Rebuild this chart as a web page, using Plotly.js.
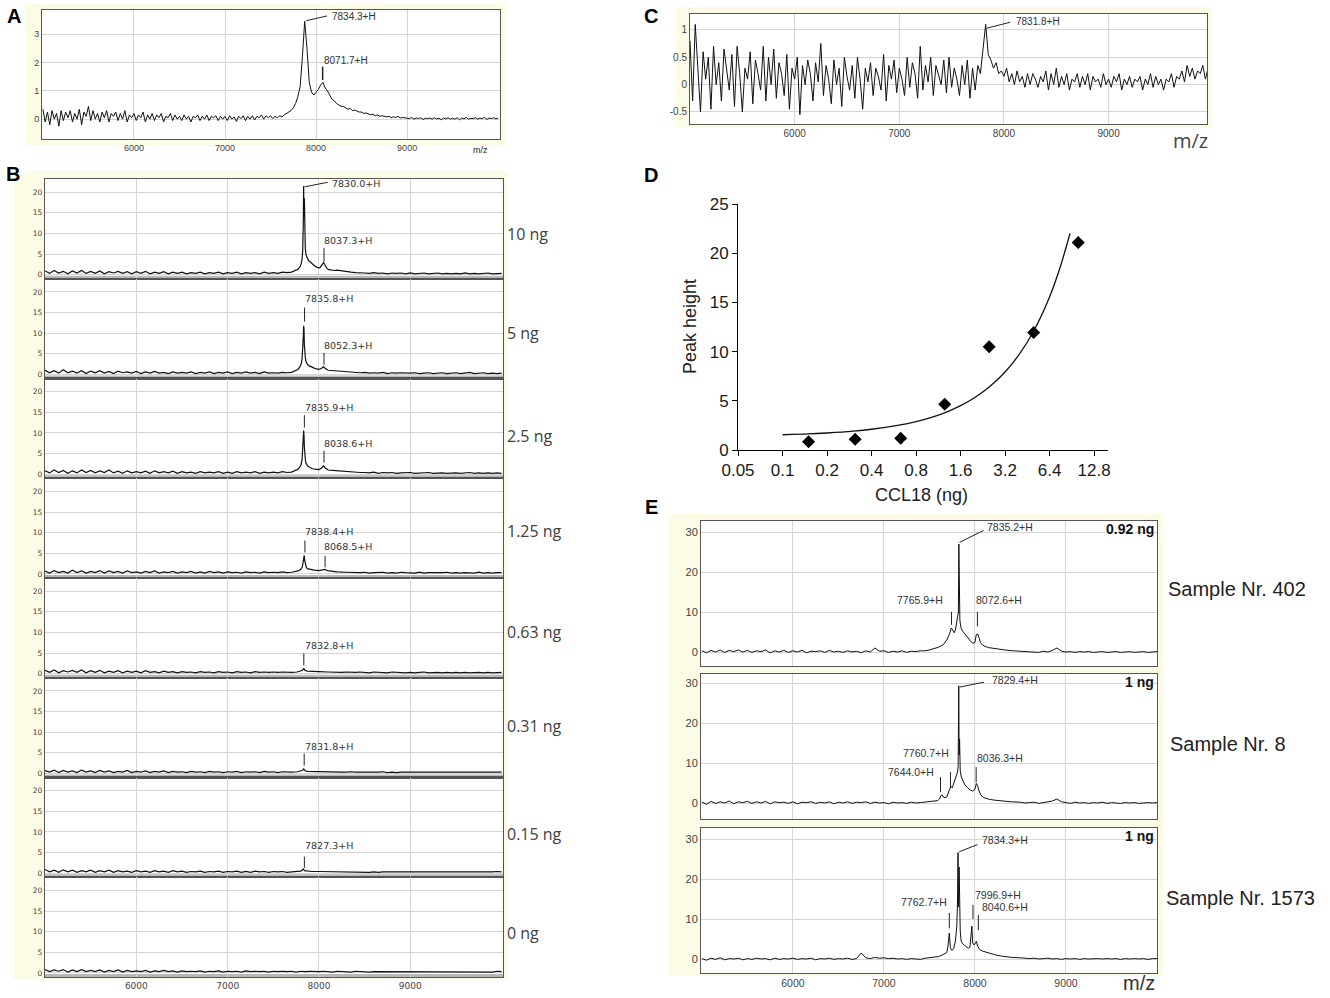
<!DOCTYPE html>
<html><head><meta charset="utf-8">
<script src="https://cdn.plot.ly/plotly-3.0.1.min.js"></script>
<style>html,body{margin:0;padding:0;background:#fff}#chart{width:1330px;height:998px}</style>
</head><body><div id="chart"></div>
<script>
// ---------- DATA ----------
const MZ25 = [
5000,5025,5050,5075,5100,5125,5150,5175,5200,5225,
5250,5275,5300,5325,5350,5375,5400,5425,5450,5475,
5500,5525,5550,5575,5600,5625,5650,5675,5700,5725,
5750,5775,5800,5825,5850,5875,5900,5925,5950,5975,
6000,6025,6050,6075,6100,6125,6150,6175,6200,6225,
6250,6275,6300,6325,6350,6375,6400,6425,6450,6475,
6500,6525,6550,6575,6600,6625,6650,6675,6700,6725,
6750,6775,6800,6825,6850,6875,6900,6925,6950,6975,
7000,7025,7050,7075,7100,7125,7150,7175,7200,7225,
7250,7275,7300,7325,7350,7375,7400,7425,7450,7475,
7500,7525,7550,7575,7600,7625,7650,7675,7700,7725,
7750,7775,7800,7825,7850,7875,7900,7925,7950,7975,
8000,8025,8050,8075,8100,8125,8150,8175,8200,8225,
8250,8275,8300,8325,8350,8375,8400,8425,8450,8475,
8500,8525,8550,8575,8600,8625,8650,8675,8700,8725,
8750,8775,8800,8825,8850,8875,8900,8925,8950,8975,
9000,9025,9050,9075,9100,9125,9150,9175,9200,9225,
9250,9275,9300,9325,9350,9375,9400,9425,9450,9475,
9500,9525,9550,9575,9600,9625,9650,9675,9700,9725,
9750,9775,9800,9825,9850,9875,9900,9925,9950,9975,
10000];
const MZ50 = MZ25.filter((m, i) => i % 2 === 0);
const mzTicks = [6000, 7000, 8000, 9000];

// Panel A spectrum (MZ25 grid)
const aIntensity = [
0.35,-0.1,0.25,-0.2,0.3,0.0,0.2,-0.25,0.3,-0.05,
0.25,0.05,0.3,-0.1,0.2,0.0,0.35,-0.2,0.25,0.1,
0.45,-0.05,0.3,0.0,0.2,-0.1,0.25,0.05,0.3,-0.1,
0.2,0.1,0.25,-0.05,0.2,0.0,0.3,-0.1,0.15,0.05,
0.2,-0.05,0.15,0.05,0.25,-0.1,0.15,0.0,0.2,-0.05,
0.15,0.05,0.2,-0.1,0.1,0.05,0.2,-0.05,0.15,0.0,
0.1,-0.05,0.15,0.0,0.1,-0.1,0.1,0.05,0.15,-0.05,
0.1,0.0,0.15,-0.05,0.1,0.05,0.12,-0.05,0.1,0.0,
0.1,-0.05,0.12,0.0,0.08,-0.08,0.1,0.02,0.12,-0.05,
0.1,0.0,0.12,-0.03,0.1,0.05,0.15,0.0,0.12,0.05,
0.12,0.02,0.1,0.05,0.12,0.08,0.15,0.2,0.25,0.3,
0.4,0.55,0.8,1.15,2.2,3.45,2.5,1.3,0.95,0.85,
0.95,1.05,1.2,1.3,1.1,1.0,0.85,0.7,0.65,0.55,
0.5,0.45,0.45,0.4,0.35,0.38,0.3,0.32,0.28,0.25,
0.25,0.2,0.22,0.18,0.15,0.17,0.12,0.15,0.1,0.12,
0.1,0.08,0.1,0.05,0.08,0.06,0.1,0.04,0.06,0.05,
0.05,0.02,0.06,0.0,0.04,0.02,0.05,-0.01,0.03,0.02,
0.04,0.0,0.05,0.01,0.03,-0.02,0.04,0.01,0.05,0.0,
0.03,0.0,0.05,-0.02,0.04,0.01,0.06,0.0,0.03,0.02,
0.05,0.0,0.04,0.02,0.06,-0.01,0.04,0.02,0.05,0.01,
0.04];

// Panel C spectrum (MZ25 grid)
const cIntensity = [
0.8,-0.3,1.1,0.2,-0.5,0.6,0.1,0.5,-0.45,0.7,
0.0,0.4,-0.3,0.65,0.3,-0.1,0.55,-0.4,0.7,0.2,
-0.5,0.3,0.1,0.6,-0.35,0.45,0.2,-0.1,0.7,-0.3,
0.5,0.0,0.65,-0.25,0.4,0.2,-0.2,0.55,-0.45,0.3,
0.1,0.5,-0.55,0.35,0.0,0.45,0.2,-0.3,0.4,0.05,
0.75,-0.2,0.35,0.1,-0.35,0.45,0.0,0.3,-0.4,0.5,
0.15,-0.1,0.35,-0.25,0.5,0.1,-0.45,0.3,0.05,0.4,
-0.2,0.3,0.15,-0.1,0.55,-0.3,0.35,0.1,0.45,-0.15,
0.3,0.1,-0.2,0.5,-0.05,0.4,0.2,-0.25,0.7,-0.1,
0.35,0.05,0.5,-0.2,0.35,0.15,0.0,0.45,-0.15,0.5,
-0.05,0.3,0.1,-0.2,0.35,0.0,0.45,-0.25,0.3,-0.1,
0.35,0.2,0.6,1.1,0.55,0.45,0.3,0.4,0.2,0.25,
0.15,0.3,0.05,0.2,0.0,0.25,0.05,0.15,-0.05,0.2,
0.0,0.2,0.1,-0.05,0.15,0.05,0.25,-0.1,0.2,0.0,
0.3,-0.05,0.15,0.0,0.2,-0.1,0.1,0.05,0.2,-0.05,
0.15,0.0,0.2,-0.1,0.15,0.05,0.1,-0.05,0.2,0.0,
0.1,-0.05,0.15,0.05,0.2,-0.1,0.1,0.0,0.15,-0.05,
0.1,0.05,0.15,-0.1,0.1,0.0,0.2,-0.05,0.15,0.0,
0.1,-0.1,0.1,0.05,0.2,-0.05,0.15,0.1,0.25,0.05,
0.35,0.15,0.3,0.1,0.25,0.2,0.35,0.1,0.3,0.4,
0.25];

// Panel B spectra: baseline on MZ50 grid + detail around the peaks
const bLabels = ['10 ng','5 ng','2.5 ng','1.25 ng','0.63 ng','0.31 ng','0.15 ng','0 ng'];
const b10Base = [.9,.3,1,.4,.8,.2,.9,.4,1,.3, .8,.3,.9,.2,.7,.4,.8,.3,.7,.2, .7,.3,.8,.2,.6,.3,.7,.2,.6,.3, .6,.2,.5,.3,.6,.2,.5,.3,.6,.2, .5,.3,.6,.2,.5,.3,.5,.2,.6,.3, .5,.3,.6,.4,.7,.6,1,5,2.5,1.8, 2,2.5,1.5,1.2,1,.9,.8,.8,.6,.5, .4,.3,.5,.3,.4,.2,.4,.3,.4,.2, .4,.2,.3,.4,.2,.3,.4,.2,.3,.2, .3,.2,.4,.2,.3,.2,.3,.4,.2,.3, .3];
const b10PeakMz = [7650,7700,7740,7770,7790,7805,7815,7822,7828,7832,7836,7840,7844,7850,7858,7870,7885,7900,7920,7940,7960,7980,8000,8015,8030,8040,8050,8060,8075,8090,8110,8140,8170,8200,8250,8300,8350,8400];
const b10PeakInt = [0.5,0.6,0.9,1.3,1.8,2.6,3.8,6,12,21.5,14,18.5,11,6.5,4.8,3.9,3.4,3.2,2.8,2.3,2.0,1.8,1.6,1.8,2.3,2.8,2.9,2.5,1.8,1.4,1.2,1.1,1.0,1.1,0.9,0.8,0.6,0.5];

const b5Base = [1,.4,.9,.3,1.1,.4,.8,.3,.9,.2, .8,.4,.9,.3,.7,.2,.8,.4,.6,.3, .7,.2,.6,.3,.7,.3,.5,.2,.6,.3, .5,.3,.6,.2,.5,.3,.6,.2,.5,.3, .6,.2,.5,.3,.6,.3,.5,.2,.6,.3, .4,.3,.5,.4,.6,.8,1,4,2,1.5, 1.2,1.8,1,.9,.8,.7,.6,.7,.5,.4, .5,.3,.4,.3,.5,.2,.4,.3,.4,.3, .3,.4,.2,.3,.4,.2,.3,.4,.2,.3, .4,.2,.3,.5,.2,.3,.4,.2,.3,.2, .3];
const b5PeakMz = [7650,7700,7740,7770,7790,7805,7815,7822,7828,7832,7836,7840,7845,7852,7860,7875,7900,7930,7960,8000,8030,8050,8070,8100,8150,8200,8300,8400];
const b5PeakInt = [0.4,0.5,0.8,1.2,1.8,2.5,3.8,6,9,11.8,11,7,5,3.8,3.0,2.4,2.0,1.6,1.4,1.2,1.5,1.9,1.4,1.0,0.9,0.8,0.6,0.4];

const b25Base = [.8,.3,1,.4,.9,.2,.8,.3,1,.4, .9,.3,.8,.4,1,.3,.7,.2,.8,.3, .6,.3,.7,.2,.8,.3,.6,.3,.7,.2, .6,.3,.5,.2,.6,.3,.5,.3,.6,.2, .5,.2,.6,.3,.5,.3,.6,.2,.5,.3, .5,.3,.6,.4,.7,.8,1.2,4,2,1.3, 1.1,1.9,1.2,1,.9,.8,.7,.6,.5,.4, .4,.3,.5,.2,.4,.3,.4,.2,.3,.3, .4,.2,.3,.3,.4,.2,.3,.3,.2,.3, .3,.2,.3,.4,.2,.3,.2,.3,.2,.3, .2];
const b25PeakMz = [7650,7700,7740,7770,7790,7805,7815,7822,7828,7832,7836,7840,7845,7852,7860,7875,7900,7930,7960,8000,8030,8050,8070,8100,8150,8200,8300,8400];
const b25PeakInt = [0.4,0.5,0.8,1.2,1.7,2.4,3.5,5.5,8.5,10.6,9.5,6.5,4.5,3.3,2.6,2.0,1.6,1.3,1.2,1.1,1.5,2.0,1.5,1.0,0.9,0.8,0.6,0.4];

const b125Base = [.7,.2,.8,.3,.6,.2,.9,.3,.7,.2, .6,.3,.8,.2,.7,.3,.6,.2,.7,.3, .5,.2,.6,.3,.7,.2,.5,.3,.6,.2, .5,.3,.6,.2,.5,.2,.6,.3,.5,.2, .5,.3,.4,.2,.5,.3,.4,.2,.5,.3, .4,.3,.5,.3,.5,.6,.9,2,1.2,.9, .8,1,.8,.7,.6,.5,.5,.4,.4,.3, .4,.2,.3,.3,.4,.2,.3,.2,.4,.3, .3,.2,.4,.2,.3,.3,.2,.3,.4,.2, .3,.2,.3,.3,.2,.4,.2,.3,.2,.3, .3];
const b125PeakMz = [7650,7700,7750,7780,7800,7815,7825,7832,7838,7844,7852,7862,7880,7910,7950,8000,8040,8065,8090,8150,8200,8300,8400];
const b125PeakInt = [0.3,0.4,0.6,0.8,1.1,1.6,2.6,3.8,4.5,3.2,2.0,1.5,1.2,1.0,0.9,0.8,0.9,1.1,0.8,0.6,0.5,0.4,0.3];

const b063Base = [.8,.3,.9,.2,.7,.4,.8,.3,.9,.2, .7,.3,.8,.2,.6,.3,.7,.2,.6,.3, .6,.2,.7,.3,.5,.2,.6,.3,.5,.2, .5,.3,.4,.2,.5,.3,.4,.2,.5,.3, .4,.2,.5,.3,.4,.2,.5,.3,.4,.3, .4,.3,.4,.3,.5,.4,.6,.9,.5,.4, .5,.4,.5,.3,.4,.3,.4,.3,.3,.4, .3,.2,.4,.3,.3,.2,.4,.3,.3,.2, .3,.2,.3,.4,.2,.3,.3,.2,.3,.2, .3,.2,.3,.2,.3,.3,.2,.3,.2,.3, .3];
const b063PeakMz = [7700,7760,7800,7820,7833,7845,7870,7920,8000,8100,8200];
const b063PeakInt = [0.3,0.4,0.6,0.8,1.3,0.8,0.6,0.5,0.5,0.4,0.3];

const b031Base = [.7,.3,.8,.2,.7,.3,.6,.2,.8,.3, .6,.2,.7,.3,.6,.2,.5,.3,.7,.2, .5,.3,.6,.2,.5,.3,.6,.2,.5,.3, .4,.2,.5,.3,.4,.2,.5,.3,.4,.2, .4,.3,.5,.2,.4,.3,.4,.2,.5,.3, .4,.2,.4,.3,.4,.4,.5,.8,.5,.4, .4,.3,.5,.3,.4,.3,.3,.4,.3,.3, .3,.2,.3,.3,.4,.2,.3,.2,.3,.3, .2,.3,.3,.2,.3,.2,.3,.3,.2,.3, .2,.3,.2,.3,.3,.2,.3,.2,.3,.2, .3];
const b031PeakMz = [7700,7760,7800,7820,7833,7845,7870,7920,8000,8100,8200];
const b031PeakInt = [0.3,0.4,0.5,0.7,1.1,0.7,0.5,0.45,0.4,0.4,0.3];

const b015Base = [.9,.3,.7,.2,.8,.3,.7,.2,.6,.3, .7,.2,.6,.3,.7,.2,.6,.3,.5,.2, .6,.3,.5,.2,.6,.3,.5,.2,.6,.3, .5,.2,.4,.3,.5,.2,.4,.3,.5,.2, .4,.3,.5,.2,.4,.2,.5,.3,.4,.2, .4,.3,.4,.2,.4,.3,.5,.7,.4,.4, .4,.3,.4,.3,.3,.4,.3,.3,.2,.3, .3,.2,.3,.2,.3,.3,.2,.3,.2,.3, .2,.3,.2,.3,.2,.2,.3,.2,.3,.2, .3,.2,.3,.2,.2,.3,.2,.3,.3,.4, .3];
const b015PeakMz = [7700,7760,7800,7815,7827,7840,7870,7920,8000,8100,8200];
const b015PeakInt = [0.3,0.35,0.5,0.7,1.0,0.6,0.5,0.4,0.4,0.35,0.3];

const b0Base = [.8,.3,.7,.4,.8,.2,.7,.3,.8,.3, .6,.3,.7,.2,.6,.3,.7,.2,.6,.3, .5,.3,.6,.2,.5,.3,.6,.3,.5,.2, .5,.3,.4,.3,.5,.2,.4,.3,.5,.2, .4,.3,.4,.2,.5,.3,.4,.3,.4,.2, .4,.3,.4,.3,.4,.2,.4,.3,.4,.3, .3,.4,.3,.2,.4,.3,.3,.2,.4,.3, .3,.2,.3,.3,.2,.3,.3,.2,.3,.2, .3,.2,.3,.2,.3,.3,.2,.3,.2,.3, .2,.3,.3,.2,.3,.2,.3,.3,.2,.4, .3];
const b0PeakMz = [];
const b0PeakInt = [];

// Panel D: calibration
const dAmountNg = [0.15, 0.31, 0.63, 1.25, 2.5, 5, 10];
const dPeakHeight = [0.85, 1.08, 1.19, 4.65, 10.5, 11.95, 21.1];
const dFitNg = [0.1,0.15,0.2,0.3,0.4,0.6,0.8,1.2,1.6,2.0,2.5,3.2,4.0,5.0,6.4,7.5,8.8];
const dFitHeight = [1.55,1.63,1.73,1.92,2.11,2.5,2.89,3.67,4.51,5.34,6.4,7.93,9.74,12.1,15.56,18.44,22.0];
const dTicks = [0.05,0.1,0.2,0.4,0.8,1.6,3.2,6.4,12.8];

// Panel E: patient samples
const eSamples = ['Sample Nr. 402','Sample Nr. 8','Sample Nr. 1573'];
const eAmounts = ['0.92 ng','1 ng','1 ng'];
const e402Base = [.3,-.2,.4,0,.5,-.1,.4,.1,.5,0, .4,-.1,.3,.1,.5,-.2,.3,0,.4,-.1, .3,0,.4,-.2,.2,.1,.3,-.1,.4,0, .2,-.1,.3,0,.2,-.2,.3,0,1,.2, .3,-.1,.2,0,.3,-.1,.2,.1,.3,.5, .6,.8,1.2,1.8,3,5,8,6,5,3, 2.4,2,1.4,1.1,.9,.7,.5,.4,.3,.2, .1,.2,0,.1,-.1,.2,0,.4,1,.2, 0,.1,-.1,.1,0,.1,-.1,0,.1,-.1, 0,.1,-.1,0,.1,-.1,0,.1,-.1,0, .1];
const e402PeakMz = [7450,7500,7550,7600,7650,7690,7720,7740,7755,7770,7785,7800,7812,7818,7823,7828,7834,7840,7850,7865,7885,7905,7930,7955,7980,8000,8015,8030,8045,8060,8080,8110,8150,8200,8260,8330,8420,8500];
const e402PeakInt = [0.3,0.5,0.8,1.2,1.8,3.0,4.5,6.0,5.5,4.8,5.5,7.5,9,10,27,10,8,7,5.8,5.2,4.6,4.0,3.2,2.6,2.2,2.4,4.4,4.5,3.6,2.4,1.8,1.4,1.1,0.9,0.7,0.5,0.3,0.2];

const e8Base = [.2,-.3,.4,-.1,.3,0,.5,-.2,.3,.1, .4,-.1,.3,0,.4,-.2,.3,.1,.2,-.1, .3,-.2,.2,.1,.3,-.1,.2,0,.3,-.2, .2,0,.3,-.1,.2,.1,.3,-.1,.2,0, .1,-.2,.2,0,.1,-.1,.2,0,.1,.3, .2,.3,.5,1,2,1.5,4,7,6,3.5, 3.4,2.5,1.5,1.1,.9,.7,.6,.4,.3,.2, .2,0,.1,.2,-.1,.1,.2,.5,1,.3, .1,-.1,.2,0,.1,-.1,.1,0,.2,-.1, .1,0,-.1,.1,0,.1,-.1,0,.1,0, .1];
const e8PeakMz = [7450,7500,7550,7590,7610,7625,7640,7660,7690,7715,7735,7750,7770,7790,7805,7815,7822,7826,7831,7838,7850,7870,7890,7920,7950,7975,8000,8015,8030,8045,8065,8090,8120,8160,8220,8300,8400,8500];
const e8PeakInt = [0.2,0.3,0.4,0.6,1.0,1.8,2.0,1.3,1.5,3.0,4.2,3.8,5.0,6.5,7.5,9,29.3,12,16,8,6.5,5.5,4.5,3.8,3.2,3.0,3.4,4.9,4.2,3.0,2.0,1.4,1.1,0.9,0.7,0.5,0.3,0.2];

const e1573Base = [.1,-.3,.2,-.1,.3,-.2,.1,0,.2,-.2, .1,-.1,.2,0,.1,-.2,.2,-.1,.1,0, .2,-.1,.1,0,.2,-.2,.1,0,.2,-.1, .1,0,.2,-.1,.1,1.5,.3,.1,.4,.2, .3,.1,.2,0,.1,-.1,.1,0,-.1,.1, .2,.3,.5,.8,1.2,2,3,7,4,3, 3.5,2.4,2,1.7,1.4,1.2,.9,.7,.5,.4, .3,.2,.1,.2,0,.1,.2,0,.1,-.1, .1,0,.1,-.1,.1,0,.1,.1,0,.1, 0,.1,-.1,.1,0,.1,0,.1,-.1,.1, .1];
const e1573PeakMz = [7450,7500,7550,7600,7640,7665,7690,7705,7718,7730,7745,7765,7785,7800,7808,7814,7820,7826,7832,7838,7848,7865,7885,7905,7925,7945,7958,7966,7975,7990,8005,8015,8030,8050,8080,8120,8170,8230,8300,8400,8500];
const e1573PeakInt = [0.2,0.3,0.4,0.6,1.0,1.3,1.6,3.5,6.5,2.8,2.2,2.5,4.5,8,14,26.6,13,23,12,7,4.5,3.8,3.4,3.0,2.7,3.0,6,8.2,4.0,3.5,4.0,4.4,3.2,2.4,2.0,1.7,1.4,1.0,0.7,0.4,0.3];

// ---------- BUILD ----------
const W = 1330, H = 998;
function spectrum(base, peakMz, peakInt) {
  const lo = peakMz.length ? peakMz[0] : Infinity;
  const hi = peakMz.length ? peakMz[peakMz.length - 1] : -Infinity;
  const pts = [];
  MZ50.forEach((m, i) => { if (m < lo || m > hi) pts.push([m, base[i]]); });
  peakMz.forEach((m, i) => pts.push([m, peakInt[i]]));
  pts.sort((a, b) => a[0] - b[0]);
  return { x: pts.map(p => p[0]), y: pts.map(p => p[1]) };
}
const SANS = 'Liberation Sans, Arial, sans-serif';
const layout = {
  width: W, height: H, margin: { l: 0, r: 0, t: 0, b: 0 },
  paper_bgcolor: '#fff', plot_bgcolor: 'rgba(0,0,0,0)', showlegend: false, hovermode: false,
  font: { family: SANS, color: '#333' }, annotations: [], shapes: []
};
const traces = [];
const sfx = n => (n === 1 ? '' : String(n));

function specAxes(n, box, xr, yr, yt, o) {
  const s = sfx(n);
  layout['xaxis' + s] = {
    domain: [box[0] / W, box[1] / W], range: xr, anchor: 'y' + s,
    showline: true, mirror: true, linecolor: o.lc || '#666', linewidth: o.lw || 1,
    showgrid: true, gridcolor: '#d5d5d5', gridwidth: 1, zeroline: false,
    tickmode: 'array', tickvals: mzTicks, ticktext: mzTicks.map(String), ticks: '',
    showticklabels: !!o.xl, tickfont: { family: o.xff || SANS, size: o.xfs || 9, color: '#444' },
    fixedrange: true
  };
  layout['yaxis' + s] = {
    domain: [1 - box[3] / H, 1 - box[2] / H], range: yr, anchor: 'x' + s,
    showline: true, mirror: true, linecolor: o.lc || '#666', linewidth: o.lw || 1,
    showgrid: true, gridcolor: '#d5d5d5', gridwidth: 1, zeroline: false,
    tickmode: 'array', tickvals: yt, ticktext: yt.map(String), ticks: '',
    tickfont: { family: o.yff || SANS, size: o.yfs || 9, color: '#444' },
    fixedrange: true
  };
}
function line(n, x, y, w) {
  const s = sfx(n);
  traces.push({ type: 'scatter', mode: 'lines', x: x, y: y, xaxis: 'x' + s, yaxis: 'y' + s,
    line: { color: '#111', width: w || 1 }, hoverinfo: 'skip' });
}
function lab(n, x, y, text, anchor, size, fam, extra) {
  const s = sfx(n);
  layout.annotations.push(Object.assign({ xref: 'x' + s, yref: 'y' + s, x: x, y: y, text: text,
    showarrow: false, xanchor: anchor || 'left', yanchor: 'middle',
    font: { family: fam || SANS, size: size || 10, color: '#333' } }, extra || {}));
}
function seg(n, x0, y0, x1, y1, w) {
  const s = sfx(n);
  layout.shapes.push({ type: 'line', xref: 'x' + s, yref: 'y' + s, x0: x0, y0: y0, x1: x1, y1: y1,
    line: { color: '#222', width: w || 1 } });
}
function ptxt(px, py, text, size, fam, anchor, extra) {
  layout.annotations.push(Object.assign({ xref: 'paper', yref: 'paper', x: px / W, y: 1 - py / H,
    text: text, showarrow: false, xanchor: anchor || 'center', yanchor: 'middle',
    font: { family: fam || SANS, size: size, color: '#222' } }, extra || {}));
}
function pbox(x0, y0, x1, y1, color) {
  layout.shapes.push({ type: 'rect', xref: 'paper', yref: 'paper', layer: 'below',
    x0: x0 / W, x1: x1 / W, y0: 1 - y1 / H, y1: 1 - y0 / H, fillcolor: color, line: { width: 0 } });
}

// pale instrument-software backgrounds, then white plotting areas
const YEL = '#fcfbe5';
pbox(26, 4, 506, 146, YEL);
pbox(14, 171, 507, 980, YEL);
pbox(676, 7, 1212, 128, YEL);
pbox(668, 514, 1163, 976, YEL);
pbox(42, 10, 500, 139, '#fff');
pbox(45, 179, 503, 977, '#fff');
pbox(690, 14, 1207, 124, '#fff');
pbox(701, 521, 1157, 666, '#fff');
pbox(701, 674, 1157, 819, '#fff');
pbox(701, 828, 1157, 973, '#fff');

// ---- Panel A ----
specAxes(1, [42, 500, 10, 139], [4990, 10020], [-0.7, 3.85], [0, 1, 2, 3], { xl: true, lc: '#555' });
line(1, MZ25, aIntensity, 1);
lab(1, 8150, 3.62, '7834.3+H', 'left', 10);
seg(1, 7890, 3.47, 8120, 3.64);
lab(1, 8066, 2.07, '8071.7+H', 'left', 10);
seg(1, 8072, 1.85, 8072, 1.38, 1.5);
ptxt(480, 150, 'm/z', 9, SANS);

// ---- Panel B ----
const bData = [
  [b10Base, b10PeakMz, b10PeakInt], [b5Base, b5PeakMz, b5PeakInt], [b25Base, b25PeakMz, b25PeakInt],
  [b125Base, b125PeakMz, b125PeakInt], [b063Base, b063PeakMz, b063PeakInt], [b031Base, b031PeakMz, b031PeakInt],
  [b015Base, b015PeakMz, b015PeakInt], [b0Base, b0PeakMz, b0PeakInt]
];
const bLabelY = [234, 333, 436, 531, 632, 726, 834, 933];
const DJ = 'DejaVu Sans, sans-serif';
bData.forEach((d, i) => {
  const n = i + 2;
  const top = 179 + 99.75 * i, bot = top + 99.75;
  specAxes(n, [45, 503, top, bot], [5000, 10015], [-1, 23.2], [0, 5, 10, 15, 20],
    { xl: i === 7, lc: '#555', lw: 1.2, yfs: 7.5, yff: DJ, xfs: 9, xff: DJ });
  layout.shapes.push({ type: 'rect', xref: 'x' + n, yref: 'y' + n, layer: 'below',
    x0: 5000, x1: 10015, y0: -1, y1: -0.3, fillcolor: '#b8b8b8', line: { width: 0 } });
  const sp = spectrum(d[0], d[1], d[2]);
  line(n, sp.x, sp.y, 1.2);
  ptxt(505, bLabelY[i], bLabels[i], 16, 'Open Sans, sans-serif', 'left', { font: { family: 'Open Sans, sans-serif', size: 16, color: '#404040' } });
});
// peak annotations B
lab(2, 8125, 22.0, '7830.0+H', 'left', 9.5, DJ);  seg(2, 7842, 21.3, 8095, 22.4);
lab(2, 8028, 8.4, '8037.3+H', 'left', 9.5, DJ);   seg(2, 8055, 6.5, 8055, 3.1);
lab(3, 7826, 18.4, '7835.8+H', 'left', 9.5, DJ);  seg(3, 7842, 16.2, 7842, 12.8);
lab(3, 8028, 7.0, '8052.3+H', 'left', 9.5, DJ);   seg(3, 8055, 5.2, 8055, 2.3);
lab(4, 7823, 16.2, '7835.9+H', 'left', 9.5, DJ);  seg(4, 7840, 14.3, 7840, 11.3);
lab(4, 8028, 7.4, '8038.6+H', 'left', 9.5, DJ);   seg(4, 8055, 5.7, 8055, 2.8);
lab(5, 7823, 10.3, '7838.4+H', 'left', 9.5, DJ);  seg(5, 7846, 8.1, 7846, 5.2);
lab(5, 8028, 6.6, '8068.5+H', 'left', 9.5, DJ);   seg(5, 8067, 4.4, 8067, 1.6);
lab(6, 7823, 6.8, '7832.8+H', 'left', 9.5, DJ);   seg(6, 7834, 4.9, 7834, 2.0);
lab(7, 7823, 6.5, '7831.8+H', 'left', 9.5, DJ);   seg(7, 7838, 4.8, 7838, 1.9);
lab(8, 7823, 6.7, '7827.3+H', 'left', 9.5, DJ);   seg(8, 7840, 4.0, 7840, 1.3);

// ---- Panel C ----
specAxes(10, [690, 1207, 14, 124], [5000, 9940], [-0.72, 1.29], [-0.5, 0, 0.5, 1], { xl: true, lc: '#555', xfs: 10, yfs: 10 });
line(10, MZ25, cIntensity, 1);
lab(10, 8096, 1.145, '7831.8+H', 'left', 10);
seg(10, 7835, 1.03, 8060, 1.14);
ptxt(1190, 140, 'm/z', 20, 'Open Sans, sans-serif', 'center', { font: { family: 'Open Sans, sans-serif', size: 20, color: '#444' } });

// ---- Panel D ----
layout.xaxis11 = {
  type: 'log', domain: [738 / W, 1108 / W], range: [Math.log10(0.05), Math.log10(15.9)], anchor: 'y11',
  showline: true, linecolor: '#000', linewidth: 1, ticks: 'outside', ticklen: 5, tickcolor: '#000',
  tickmode: 'array', tickvals: dTicks, ticktext: dTicks.map(String), showgrid: false, zeroline: false,
  tickfont: { family: SANS, size: 17, color: '#1a1a1a' }, fixedrange: true
};
layout.yaxis11 = {
  domain: [1 - 450 / H, 1 - 204 / H], range: [0, 25], anchor: 'x11',
  showline: true, linecolor: '#000', linewidth: 1, ticks: 'outside', ticklen: 5, tickcolor: '#000',
  tickmode: 'array', tickvals: [0, 5, 10, 15, 20, 25], ticktext: ['0','5','10','15','20','25'],
  showgrid: false, zeroline: false, tickfont: { family: SANS, size: 17, color: '#1a1a1a' }, fixedrange: true
};
traces.push({ type: 'scatter', mode: 'lines', x: dFitNg, y: dFitHeight, xaxis: 'x11', yaxis: 'y11',
  line: { color: '#111', width: 1.3, shape: 'spline', smoothing: 0.8 }, hoverinfo: 'skip', cliponaxis: false });
traces.push({ type: 'scatter', mode: 'markers', x: dAmountNg, y: dPeakHeight, xaxis: 'x11', yaxis: 'y11',
  marker: { symbol: 'diamond', size: 10, color: '#000' }, hoverinfo: 'skip', cliponaxis: false });
ptxt(690, 327, 'Peak height', 18, SANS, 'center', { textangle: -90 });
ptxt(922, 495, 'CCL18 (ng)', 18, SANS, 'center');

// ---- Panel E ----
const eData = [[e402Base, e402PeakMz, e402PeakInt], [e8Base, e8PeakMz, e8PeakInt], [e1573Base, e1573PeakMz, e1573PeakInt]];
const eBoxes = [[701, 1157, 521, 666], [701, 1157, 674, 819], [701, 1157, 828, 973]];
const eRanges = [[-3.5, 32.75], [-4, 32.25], [-3.5, 32.75]];
const eSampleY = [589, 744, 898];
const eSampleX = [1166, 1168, 1164];
eData.forEach((d, j) => {
  const n = 12 + j;
  specAxes(n, eBoxes[j], [4990, 10000], eRanges[j], [0, 10, 20, 30], { xl: j === 2, lc: '#555', xfs: 10.5, yfs: 11 });
  const sp = spectrum(d[0], d[1], d[2]);
  line(n, sp.x, sp.y, 1);
  ptxt(eSampleX[j], eSampleY[j], eSamples[j], 20, SANS, 'left');
  lab(n, 9985, eRanges[j][1] - 2.1, eAmounts[j], 'right', 14, SANS, { font: { family: SANS, size: 14, color: '#111', weight: 'bold' } });
});
ptxt(1139, 983, 'm/z', 20, SANS, 'center', { font: { family: SANS, size: 20, color: '#333' } });
// E1
lab(12, 8108, 31.3, '7835.2+H', 'left', 10.5); seg(12, 7830, 27.4, 8095, 30.4);
lab(12, 7672, 13, '7765.9+H', 'right', 10.5);  seg(12, 7742, 10, 7742, 6.8);
lab(12, 7992, 13, '8072.6+H', 'left', 10.5);   seg(12, 8027, 10, 8027, 6.4);
// E2
lab(13, 8168, 30.8, '7829.4+H', 'left', 10.5); seg(13, 7835, 29.0, 8100, 30.2);
lab(13, 7742, 12.5, '7760.7+H', 'right', 10.5); seg(13, 7731, 7.8, 7731, 3.8);
lab(13, 7576, 7.8, '7644.0+H', 'right', 10.5); seg(13, 7621, 6.5, 7621, 2.7);
lab(13, 8003, 11.3, '8036.3+H', 'left', 10.5); seg(13, 8013, 9.0, 8013, 5.2);
// E3
lab(14, 8050, 29.8, '7834.3+H', 'left', 10.5); seg(14, 7826, 26.8, 8028, 28.6);
lab(14, 7717, 14.3, '7762.7+H', 'right', 10.5); seg(14, 7718, 11.5, 7718, 7.7);
lab(14, 7976, 16.0, '7996.9+H', 'left', 10.5); seg(14, 7978, 13.5, 7978, 10);
lab(14, 8050, 13.0, '8040.6+H', 'left', 10.5); seg(14, 8037, 11, 8037, 7.2);

// panel letters
const LET = { family: 'Liberation Sans, Arial, sans-serif', size: 20, color: '#000', weight: 'bold' };
[['A', 14, 16], ['B', 13, 174], ['C', 651, 16], ['D', 651, 175], ['E', 651, 507]].forEach(l => {
  ptxt(l[1], l[2], '<b>' + l[0] + '</b>', 20, SANS, 'center', { font: LET });
});

Plotly.newPlot('chart', traces, layout, { staticPlot: true, displayModeBar: false });
</script></body></html>
